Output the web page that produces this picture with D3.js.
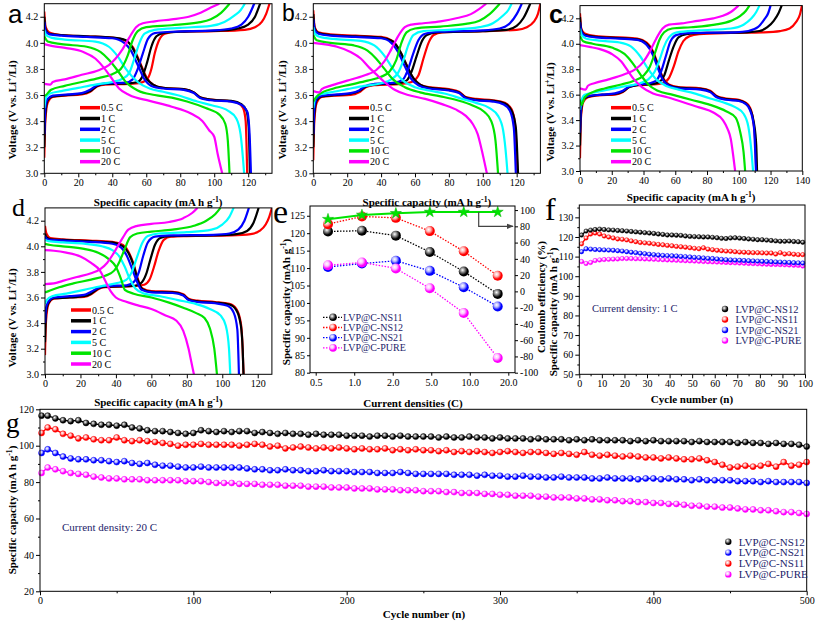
<!DOCTYPE html>
<html><head><meta charset="utf-8">
<script src="https://cdn.jsdelivr.net/npm/d3@7/dist/d3.min.js"></script>
<style>html,body{margin:0;padding:0;background:#fff;} svg{display:block;}</style>
</head><body>
<svg id="chart" width="817" height="626"></svg>
<script>
// ================= DATA =================
const rateLabels = ["0.5 C","1 C","2 C","5 C","10 C","20 C"];
const rateColors = ["#ff0000","#000000","#0000ff","#00ffff","#00e400","#ff00ff"];

// Panel a : [capacity mAh/g, voltage V]
const aDischarge = [
 [[0,4.24],[0.8,4.12],[3,4.08],[10,4.06],[25,4.05],[40,4.04],[47,4.02],[52,3.97],[56,3.86],[60,3.74],[64,3.68],[70,3.655],[82,3.645],[88,3.62],[92,3.58],[98,3.565],[108,3.555],[114,3.54],[117,3.5],[118.5,3.4],[119.4,3.0]],
 [[0,4.2],[0.8,4.1],[3,4.07],[10,4.06],[25,4.05],[40,4.04],[48,4.02],[52,3.96],[56,3.85],[60,3.73],[64,3.68],[70,3.655],[82,3.645],[88,3.62],[92,3.58],[98,3.565],[110,3.555],[116,3.53],[119,3.48],[120.3,3.35],[121,3.0]],
 [[0,4.16],[0.8,4.09],[3,4.065],[10,4.055],[25,4.045],[40,4.035],[47,4.0],[51,3.94],[55,3.83],[59,3.72],[63,3.67],[70,3.65],[82,3.64],[88,3.615],[92,3.575],[98,3.56],[110,3.55],[116,3.525],[119.5,3.47],[120.8,3.3],[121.6,3.0]],
 [[0,4.1],[1,4.06],[4,4.04],[12,4.025],[30,4.01],[38,3.97],[43,3.9],[48,3.8],[55,3.7],[62,3.65],[70,3.625],[78,3.6],[90,3.55],[99,3.52],[108,3.48],[113,3.42],[115.5,3.3],[117,3.1],[117.6,3.0]],
 [[0,4.05],[2,4.01],[10,3.99],[25,3.97],[33,3.93],[38,3.87],[43,3.79],[48,3.7],[55,3.635],[65,3.6],[75,3.58],[84,3.55],[95,3.5],[103,3.45],[106.5,3.38],[108,3.25],[109,3.0]],
 [[0,3.99],[5,3.975],[13,3.96],[23,3.93],[30,3.88],[35,3.81],[39,3.74],[44,3.65],[50,3.6],[62,3.555],[75,3.51],[86,3.46],[93,3.4],[97,3.33],[100,3.28],[102,3.15],[104.7,3.0]]
];
const aCharge = [
 [[0,3.12],[0.6,3.4],[2,3.54],[5,3.585],[12,3.595],[22,3.605],[27,3.625],[31,3.665],[36,3.68],[50,3.685],[57,3.695],[61,3.73],[63,3.8],[65,3.92],[67.5,4.02],[71,4.07],[78,4.085],[100,4.09],[118,4.1],[124,4.12],[128,4.16],[130.5,4.22],[132.5,4.3]],
 [[0,3.2],[0.6,3.45],[2,3.56],[5,3.59],[14,3.6],[22,3.61],[27,3.63],[31,3.67],[36,3.685],[50,3.69],[55,3.7],[58,3.75],[60.5,3.85],[63,3.97],[66,4.05],[70,4.075],[80,4.085],[105,4.095],[114,4.11],[120,4.14],[124,4.2],[127,4.3]],
 [[0,3.3],[0.6,3.5],[2,3.57],[5,3.595],[14,3.605],[22,3.615],[27,3.64],[31,3.675],[36,3.69],[48,3.695],[52,3.72],[55,3.8],[58,3.92],[61,4.03],[65,4.075],[75,4.085],[100,4.095],[110,4.11],[116,4.14],[120,4.2],[123.5,4.3]],
 [[0,3.5],[1,3.58],[3,3.61],[10,3.63],[20,3.655],[30,3.68],[40,3.7],[46,3.725],[50,3.77],[53,3.88],[56,4.0],[59,4.07],[65,4.1],[80,4.115],[98,4.13],[106,4.16],[112,4.21],[115.5,4.25],[118,4.3]],
 [[0,3.59],[1,3.6],[4,3.64],[12,3.67],[22,3.7],[32,3.73],[40,3.76],[45,3.8],[49,3.9],[52,4.02],[55,4.09],[60,4.12],[75,4.135],[90,4.155],[98,4.18],[104,4.23],[109,4.3]],
 [[0,3.685],[3.5,3.68],[5,3.7],[12,3.72],[22,3.755],[32,3.79],[38,3.83],[42,3.88],[46,3.95],[50,4.04],[54,4.12],[58,4.15],[65,4.165],[75,4.18],[85,4.2],[92,4.23],[98,4.27],[103,4.3]]
];

// Panel b
const bDischarge = [
 [[0,4.25],[0.8,4.12],[3,4.08],[10,4.065],[25,4.055],[40,4.045],[46,4.02],[50,3.96],[54,3.86],[58,3.75],[62,3.69],[68,3.66],[80,3.645],[86,3.625],[90,3.585],[96,3.57],[106,3.56],[113,3.54],[117,3.49],[119,3.38],[120.5,3.0]],
 [[0,4.22],[0.8,4.11],[3,4.075],[10,4.06],[25,4.05],[40,4.04],[47,4.01],[51,3.94],[55,3.83],[59,3.73],[63,3.68],[69,3.655],[80,3.64],[86,3.62],[90,3.58],[96,3.565],[107,3.555],[113,3.535],[117,3.48],[119.5,3.35],[120.8,3.0]],
 [[0,4.18],[0.8,4.1],[3,4.07],[10,4.055],[25,4.045],[40,4.035],[46,4.0],[50,3.93],[54,3.82],[58,3.72],[62,3.675],[68,3.65],[80,3.635],[86,3.615],[90,3.575],[96,3.56],[106,3.55],[112,3.53],[116,3.48],[118.3,3.35],[119.5,3.0]],
 [[0,4.12],[1,4.07],[4,4.045],[12,4.03],[28,4.015],[36,3.98],[42,3.9],[47,3.8],[53,3.71],[60,3.66],[68,3.635],[78,3.61],[88,3.57],[96,3.54],[104,3.5],[109,3.44],[112,3.33],[114,3.1],[114.6,3.0]],
 [[0,4.06],[2,4.02],[10,4.0],[24,3.98],[32,3.94],[37,3.88],[42,3.8],[47,3.72],[54,3.66],[63,3.62],[75,3.59],[85,3.56],[94,3.52],[101,3.47],[105,3.4],[107.5,3.25],[109,3.0]],
 [[0,4.0],[6,3.99],[14,3.97],[22,3.93],[28,3.88],[33,3.81],[37,3.76],[42,3.7],[48,3.64],[56,3.6],[66,3.57],[76,3.53],[84,3.49],[90,3.44],[94,3.38],[97,3.3],[99,3.2],[102.4,3.0]]
];
const bCharge = [
 [[0,3.1],[0.6,3.4],[2,3.54],[5,3.585],[12,3.595],[22,3.6],[27,3.62],[31,3.66],[36,3.675],[52,3.685],[58,3.7],[62,3.75],[65,3.88],[68,4.0],[71,4.06],[76,4.08],[100,4.09],[120,4.1],[126,4.12],[130,4.16],[132.5,4.22],[134,4.3]],
 [[0,3.2],[0.6,3.45],[2,3.56],[5,3.59],[14,3.6],[22,3.61],[27,3.63],[31,3.665],[36,3.68],[50,3.69],[55,3.71],[58,3.78],[61,3.9],[64,4.01],[67,4.06],[73,4.08],[100,4.09],[114,4.1],[120,4.13],[124,4.19],[128,4.3]],
 [[0,3.3],[0.6,3.5],[2,3.57],[5,3.595],[14,3.605],[22,3.615],[27,3.635],[31,3.67],[36,3.685],[48,3.695],[53,3.72],[56,3.8],[59,3.92],[62,4.02],[66,4.07],[75,4.085],[100,4.095],[110,4.11],[116,4.15],[120,4.22],[123,4.3]],
 [[0,3.5],[1,3.57],[3,3.6],[10,3.62],[20,3.645],[30,3.67],[40,3.69],[46,3.72],[50,3.77],[53,3.86],[56,3.98],[59,4.06],[65,4.09],[80,4.1],[98,4.12],[106,4.15],[112,4.21],[115,4.25],[117,4.3]],
 [[0,3.55],[1,3.57],[4,3.61],[12,3.65],[22,3.68],[32,3.71],[40,3.74],[45,3.78],[49,3.87],[52,4.0],[55,4.08],[60,4.11],[75,4.125],[90,4.145],[98,4.17],[104,4.22],[110,4.3]],
 [[0,3.63],[3.5,3.62],[5,3.645],[10,3.67],[20,3.71],[30,3.75],[37,3.79],[42,3.86],[46,3.95],[50,4.05],[54,4.12],[58,4.14],[65,4.15],[75,4.165],[85,4.19],[93,4.22],[98,4.26],[102,4.3]]
];

// Panel c
const cDischarge = [
 [[0,4.24],[0.8,4.12],[3,4.08],[10,4.06],[25,4.05],[36,4.04],[42,4.01],[46,3.94],[49,3.84],[52,3.74],[56,3.68],[62,3.66],[76,3.65],[82,3.63],[86,3.59],[92,3.57],[100,3.56],[104,3.54],[107,3.5],[109,3.4],[110.5,3.2],[111,3.0]],
 [[0,4.21],[0.8,4.11],[3,4.07],[10,4.055],[25,4.045],[36,4.035],[42,4.0],[46,3.93],[49,3.83],[52,3.73],[56,3.675],[62,3.655],[76,3.645],[82,3.625],[86,3.585],[92,3.565],[100,3.555],[104,3.535],[107,3.49],[109.5,3.38],[111,3.2],[111.5,3.0]],
 [[0,4.17],[0.8,4.1],[3,4.065],[10,4.05],[25,4.04],[36,4.03],[42,3.99],[46,3.91],[49,3.81],[52,3.72],[56,3.67],[62,3.65],[76,3.64],[82,3.62],[86,3.58],[92,3.56],[100,3.55],[104,3.53],[107,3.48],[109.5,3.35],[110.8,3.0]],
 [[0,4.12],[1,4.07],[4,4.04],[12,4.025],[25,4.01],[32,3.98],[38,3.9],[43,3.8],[48,3.72],[54,3.67],[62,3.64],[72,3.61],[82,3.57],[90,3.54],[98,3.5],[103,3.45],[106,3.35],[108,3.15],[109,3.0]],
 [[0,4.06],[2,4.02],[8,4.0],[20,3.97],[28,3.92],[33,3.85],[38,3.76],[43,3.68],[49,3.63],[58,3.6],[70,3.56],[82,3.52],[92,3.47],[98,3.42],[101,3.3],[103,3.15],[104,3.0]],
 [[0,3.99],[6,3.975],[12,3.96],[20,3.92],[26,3.86],[30,3.79],[34,3.72],[39,3.66],[46,3.61],[55,3.58],[65,3.54],[75,3.5],[84,3.46],[90,3.4],[93,3.33],[95,3.25],[96.5,3.12],[97.7,3.0]]
];
const cCharge = [
 [[0,3.1],[0.6,3.42],[2,3.54],[5,3.58],[12,3.595],[22,3.6],[27,3.62],[31,3.66],[36,3.675],[46,3.68],[52,3.69],[56,3.73],[59,3.82],[62,3.94],[65,4.02],[69,4.06],[75,4.075],[95,4.085],[115,4.09],[126,4.1],[132,4.12],[136,4.17],[138.5,4.23],[139.8,4.3]],
 [[0,3.2],[0.6,3.45],[2,3.56],[5,3.585],[14,3.6],[22,3.605],[27,3.625],[31,3.66],[36,3.675],[46,3.685],[50,3.7],[53,3.75],[56,3.87],[59,3.98],[62,4.05],[67,4.075],[80,4.085],[105,4.09],[113,4.1],[118,4.13],[122,4.18],[125,4.24],[127,4.3]],
 [[0,3.3],[0.6,3.5],[2,3.57],[5,3.59],[14,3.6],[22,3.61],[27,3.63],[31,3.665],[36,3.68],[44,3.69],[48,3.71],[51,3.78],[54,3.9],[57,4.02],[61,4.07],[70,4.085],[98,4.09],[106,4.1],[112,4.13],[116,4.19],[118.5,4.24],[120,4.3]],
 [[0,3.48],[1,3.56],[3,3.6],[10,3.62],[20,3.645],[30,3.67],[38,3.69],[43,3.72],[47,3.78],[50,3.87],[53,3.98],[56,4.05],[61,4.09],[75,4.105],[95,4.12],[103,4.15],[108,4.2],[111,4.25],[113,4.3]],
 [[0,3.56],[1,3.52],[3,3.58],[8,3.62],[16,3.65],[26,3.68],[34,3.71],[40,3.75],[44,3.82],[47,3.92],[50,4.03],[53,4.09],[58,4.12],[70,4.13],[85,4.15],[95,4.18],[101,4.22],[104.5,4.26],[106.7,4.3]],
 [[0,3.65],[3.5,3.64],[5,3.67],[9,3.69],[18,3.72],[28,3.76],[35,3.8],[40,3.86],[44,3.94],[48,4.04],[52,4.12],[56,4.15],[64,4.16],[74,4.18],[84,4.2],[90,4.22],[95,4.25],[99.8,4.3]]
];

// Panel d
const dDischarge = [
 [[0,4.16],[0.8,4.1],[3,4.065],[10,4.055],[25,4.045],[38,4.035],[44,4.01],[47,3.96],[50,3.86],[52.5,3.74],[55,3.67],[60,3.65],[72,3.645],[78,3.625],[81,3.59],[86,3.575],[96,3.565],[104,3.55],[108,3.51],[110.5,3.4],[111.5,3.2],[112,3.0]],
 [[0,4.1],[0.8,4.07],[3,4.055],[10,4.05],[25,4.04],[38,4.03],[44,4.0],[47,3.95],[50,3.85],[52.5,3.73],[55,3.665],[60,3.645],[72,3.64],[78,3.62],[81,3.585],[86,3.57],[96,3.56],[104,3.545],[108,3.5],[110.5,3.38],[111.5,3.2],[112,3.0]],
 [[0,4.08],[0.8,4.06],[3,4.05],[10,4.045],[25,4.035],[38,4.02],[43,3.99],[46,3.93],[49,3.83],[52,3.72],[54.5,3.66],[60,3.64],[72,3.635],[78,3.615],[81,3.58],[86,3.565],[96,3.555],[103,3.535],[106.5,3.48],[108.5,3.35],[109.4,3.0]],
 [[0,4.05],[2,4.04],[10,4.03],[22,4.02],[32,4.0],[38,3.97],[42,3.92],[45,3.84],[48,3.74],[51,3.67],[56,3.63],[65,3.61],[75,3.58],[85,3.55],[93,3.51],[99,3.46],[102,3.38],[103.8,3.2],[104.5,3.0]],
 [[0,4.02],[3,4.01],[10,4.0],[22,3.98],[30,3.95],[36,3.9],[40,3.84],[43,3.74],[45,3.66],[50,3.63],[60,3.6],[70,3.56],[78,3.52],[85,3.48],[90,3.44],[93,3.36],[95.5,3.2],[97,3.0]],
 [[0,3.97],[5,3.965],[12,3.95],[20,3.92],[26,3.87],[31,3.81],[34,3.73],[37,3.65],[40,3.6],[45,3.57],[52,3.54],[60,3.51],[68,3.46],[74,3.42],[78,3.34],[81,3.2],[82.5,3.1],[84,3.0]]
];
const dCharge = [
 [[0,3.15],[0.6,3.42],[2,3.55],[5,3.59],[14,3.6],[22,3.605],[26,3.625],[30,3.665],[34,3.68],[50,3.69],[56,3.7],[59,3.74],[61.5,3.84],[64,3.96],[67,4.05],[71,4.075],[80,4.08],[105,4.085],[116,4.095],[121,4.12],[124.5,4.17],[126.5,4.23],[128,4.3]],
 [[0,3.25],[0.6,3.48],[2,3.56],[5,3.595],[14,3.6],[22,3.61],[26,3.63],[30,3.67],[34,3.685],[50,3.69],[54,3.71],[57,3.78],[59.5,3.9],[62,4.01],[65,4.065],[70,4.08],[95,4.085],[108,4.095],[114,4.12],[117.5,4.18],[120.5,4.3]],
 [[0,3.4],[0.6,3.52],[2,3.57],[5,3.6],[14,3.61],[22,3.62],[26,3.645],[30,3.675],[34,3.69],[46,3.695],[50,3.72],[53,3.8],[55.5,3.93],[58,4.03],[62,4.075],[70,4.085],[95,4.09],[104,4.1],[109,4.13],[112.5,4.2],[115,4.3]],
 [[0,3.55],[1,3.58],[4,3.61],[12,3.63],[22,3.66],[32,3.69],[40,3.71],[46,3.74],[49,3.8],[52,3.92],[55,4.03],[58,4.08],[64,4.1],[80,4.11],[94,4.13],[100,4.17],[104,4.23],[106.4,4.3]],
 [[0,3.64],[2,3.65],[8,3.68],[16,3.71],[26,3.74],[34,3.77],[39,3.81],[42,3.88],[45,3.98],[48,4.07],[52,4.1],[60,4.115],[72,4.13],[84,4.16],[91,4.2],[96,4.25],[99,4.3]],
 [[0,3.705],[5,3.71],[10,3.73],[18,3.76],[26,3.79],[31,3.82],[35,3.87],[38,3.93],[41,4.0],[44,4.07],[47,4.13],[52,4.16],[60,4.175],[70,4.19],[78,4.22],[83,4.26],[86,4.3]]
];

// Panel e : rate capability
const eCurrents   = ["0.5","1","2","5","10","20"];
const eTickLabels = ["0.5","1.0","2.0","5.0","10.0","20.0"];
const eNS11 = [120.5, 120.7, 119.3, 114.6, 109.0, 102.6];
const eNS12 = [122.6, 124.8, 124.4, 120.6, 114.8, 107.8];
const eNS21 = [110.3, 111.3, 112.1, 109.2, 104.5, 99.0];
const ePURE = [110.8, 111.6, 109.9, 104.2, 97.1, 84.2];
const eCoulomb = [88.8, 94.0, 96.0, 97.6, 97.6, 97.6];

// Panel f : 1 C cycling, every 2nd cycle starting at cycle 1
const fNS12 = [121,123,123.5,123.8,124,123.8,123.6,123.5,123.3,123.2,123,122.8,122.6,122.4,122.2,122,121.8,121.5,121.3,121,121,120.9,120.8,120.5,120.3,120.2,120.1,120,120,119.8,119.6,119.3,119.2,119.5,119.6,119.4,119.2,119,118.8,118.6,118.6,118.4,118.2,118,117.8,117.8,117.9,117.7,117.6,117.3];
const fNS11 = [116.5,119.5,121.5,122,121.5,120.5,120,119.5,119,118.8,118.5,118,117.6,117.2,117,116.8,116.5,116.2,116,115.7,115.5,115.2,115,114.8,114.5,114.2,114,114.5,113.8,113.5,113.2,113,112.8,112.7,112.5,112.3,112.2,112.1,112,112,111.9,111.8,111.8,111.3,112,111.3,111.5,111.2,111,111];
const fNS21 = [112.5,114,113.8,113.6,113.5,113.4,113.3,113.2,113,112.8,112.5,112.2,112,111.7,111.5,111.2,111,110.8,110.6,110.5,110.4,110.3,110.1,110,109.8,109.6,109.5,109.3,109.1,109,108.8,108.6,108.4,108.3,108.2,108.1,108,107.9,107.8,107.7,107.6,107.5,107.4,107.3,107.2,107.1,107,106.9,106.8,106.7];
const fPURE = [107.5,106.5,107,108,108.3,108.5,108.6,108.7,108.8,109,109,109,108.9,108.9,108.8,108.7,108.6,108.5,108.4,108.3,108.2,108.1,108,107.9,107.8,107.7,107.6,107.5,107.4,107.3,107.2,107.1,107,106.9,106.8,106.7,106.6,106.5,106.4,106.3,106.2,106.1,106,106,105.9,105.8,105.7,105.6,105.5,105.2];

// Panel g : 20 C cycling, cycles 1,5,10,...,500
const gNS12 = [116.5,116.5,115,114,113.5,114,112.5,112,111.5,111.5,111,111.5,110,109.5,108.5,108,108,107.5,107,106.5,107,
 108.5,108,107.5,108,107.5,108,108,107,107.5,107,
 106.5,107,106.5,106.5,106,106.5,106,106,106,105.5,
 105.5,105.5,105,105.5,105.5,105,105.5,105,105,105,
 105,104.5,105,104.5,104.5,105,104.5,104.5,104,104.5,
 104,104,104,103.5,104,103.5,103.5,103.5,103,103.5,
 103,103.5,103,103,103,103,102.5,103,102.5,103,
 102.5,102.5,102.5,102.5,102,102.5,102,102,102,102,
 101.5,102,101.5,101.5,101,101.5,101,101,100.5,99.5];
const gNS11 = [107,110,109,106.5,105.5,104,104.5,103.5,103,103,104.5,103,102.5,103,102.5,102,101.5,101,100,100.5,100.5,
 101,100.5,100.5,100.5,100.5,100,100.5,101,100.5,99.5,
 100,98.5,99,99.5,99,98.5,99,98.5,99,98.5,
 98,98.5,98,98,98.5,97.5,98,97.5,98,97.5,
 97.5,97,97.5,96.5,97,96.5,97,96.5,96,96.5,
 97,96.5,96,96.5,96.5,96,95.5,96,95.5,95,
 96.5,95,94.5,95,94.5,94,94.5,94,93.5,93.5,
 93,93.5,93,92.5,92.5,93,92,91,89.5,88,
 88.5,89,88.5,89,90,88.5,91,89,89.5,91];
const gNS21 = [96,98,96,94,93,92.5,92.5,92,92,91.5,91,91.5,90.5,90,90.5,89.5,89,89,88.5,88,88,
 88.5,88,88,88,88,88,87.5,87,87,86.5,
 86.5,87,86.5,86.5,86,86,86.5,86,86,86,
 85.5,85.5,85.5,85,85,85,85.5,85,84.5,84.5,
 84.5,84.5,84.5,84,84,84,83.5,84,83.5,83.5,
 83,83,83.5,83,83,82.5,82.5,83,82.5,82.5,
 82.5,82,82,82.5,82,82,82,81.5,82,82,
 81.5,82,81.5,81.5,81,81.5,81,81,81,81,
 80.5,80.5,80.5,80,80.5,80,80,80,80,79.5];
const gPURE = [85,88,87,86,85,84.5,84,83,82.5,82,82,81.5,81.5,81.5,81,81,81,81,81,80.5,80.5,
 80.5,80,79.5,79.5,79.5,79,79,79,78.5,78.5,
 78.5,78,78,78,77.5,77.5,77.5,77,77,77,
 76.5,76.5,76.5,76,76,76,75.5,75.5,75.5,75,
 75,75,74.5,74.5,74,74,74,73.5,73.5,73,
 73,72.5,72.5,72.5,72,72,71.5,71.5,71.5,71,
 71,70.5,70.5,70,70,69.5,69.5,69,69,68.5,
 68.5,68,68,67.5,67,67,66.5,66.5,66,66,
 65.5,65,65,64.5,64.5,64,63.5,63.5,63,62.5];

// ================= RENDER =================
const svg = d3.select("#chart");
const SERIF = "'Liberation Serif','Times New Roman',serif";
const SANS = "'Liberation Sans',Arial,sans-serif";
const NAVY = "#23236a";
const defs = svg.append("defs");

const balls = {black:["#000000","#8a8a8a"], red:["#ff0000","#ffb4b4"], blue:["#0000ff","#b4b4ff"], magenta:["#ff00ff","#ffc4ff"]};
Object.entries(balls).forEach(([k,[c,l]])=>{
  const gr = defs.append("radialGradient").attr("id","ball-"+k).attr("cx","38%").attr("cy","35%").attr("r","65%");
  gr.append("stop").attr("offset","0%").attr("stop-color","#ffffff");
  gr.append("stop").attr("offset","35%").attr("stop-color",l);
  gr.append("stop").attr("offset","75%").attr("stop-color",c);
  gr.append("stop").attr("offset","100%").attr("stop-color",c);
});
defs.append("marker").attr("id","arrowHead").attr("viewBox","0 0 10 10").attr("refX",9).attr("refY",5)
  .attr("markerWidth",6).attr("markerHeight",6).attr("orient","auto")
  .append("path").attr("d","M0,1 L10,5 L0,9 Z").attr("fill","#444");

function styleAxis(sel, fs){
  sel.select(".domain").remove();
  sel.selectAll(".tick line").attr("stroke","#000").attr("stroke-width",1);
  sel.selectAll(".tick text").attr("font-family",SERIF).attr("font-size",fs||10).attr("fill","#000");
}
function frame(x0,y0,x1,y1){
  svg.append("rect").attr("x",x0).attr("y",y0).attr("width",x1-x0).attr("height",y1-y0)
    .attr("fill","none").attr("stroke","#000").attr("stroke-width",1);
}
// rich text with superscripts: parts = [[text, isSup], ...]
function richText(x,y,parts,opts){
  const g = svg.append("g").attr("transform",`translate(${x},${y})${opts.rotate?" rotate(-90)":""}`);
  const t = g.append("text").attr("text-anchor",opts.anchor||"middle").attr("font-family",SERIF)
    .attr("font-size",opts.size||11).attr("font-weight",opts.weight||"bold").attr("fill",opts.fill||"#000");
  let prevSup = false;
  parts.forEach(([s,sup])=>{
    const ts = t.append("tspan").text(s);
    if(sup){ ts.attr("dy",-4).attr("font-size",(opts.size||11)*0.7); }
    else if(prevSup){ ts.attr("dy",4); }
    prevSup = !!sup;
  });
  return t;
}
function letter(txt,x,y,font,size,weight){
  svg.append("text").attr("x",x).attr("y",y).attr("font-family",font).attr("font-size",size)
    .attr("font-weight",weight||"normal").attr("fill","#000").text(txt);
}
const capLabel = [["Specific capacity (mA h g",0],["-1",1],[")",0]];
const voltLabel = [["Voltage (V vs. Li",0],["+",1],["/Li)",0]];

function voltagePanel(cfg){
  const x = d3.scaleLinear().domain([0,cfg.xMax]).range([cfg.x0,cfg.x1]);
  const y = d3.scaleLinear().domain([3.0,4.3]).range([cfg.yBot,cfg.yTop]);
  const id = "clip-"+cfg.name;
  defs.append("clipPath").attr("id",id).append("rect").attr("x",cfg.x0).attr("y",cfg.yTop)
    .attr("width",cfg.x1-cfg.x0).attr("height",cfg.yBot-cfg.yTop);
  const line = d3.line().x(d=>x(d[0])).y(d=>y(d[1])).curve(d3.curveMonotoneX);
  const gc = svg.append("g").attr("clip-path",`url(#${id})`);
  rateLabels.forEach((r,i)=>{
    gc.append("path").attr("d",line(cfg.charge[i])).attr("fill","none").attr("stroke",rateColors[i]).attr("stroke-width",2.2);
    gc.append("path").attr("d",line(cfg.discharge[i])).attr("fill","none").attr("stroke",rateColors[i]).attr("stroke-width",2.2);
  });
  const xa = svg.append("g").attr("transform",`translate(0,${cfg.yBot})`)
    .call(d3.axisBottom(x).tickValues(d3.range(0,cfg.xMax+0.01,20)).tickSize(4).tickPadding(2).tickFormat(d3.format("d")));
  styleAxis(xa);
  const xm = svg.append("g").attr("transform",`translate(0,${cfg.yBot})`)
    .call(d3.axisBottom(x).tickValues(d3.range(10,cfg.xMax,20)).tickSize(2).tickFormat(""));
  styleAxis(xm);
  const ya = svg.append("g").attr("transform",`translate(${cfg.x0},0)`)
    .call(d3.axisLeft(y).tickValues([3.0,3.2,3.4,3.6,3.8,4.0,4.2]).tickSize(4).tickPadding(2).tickFormat(d3.format(".1f")));
  styleAxis(ya);
  const ym = svg.append("g").attr("transform",`translate(${cfg.x0},0)`)
    .call(d3.axisLeft(y).tickValues([3.1,3.3,3.5,3.7,3.9,4.1]).tickSize(2).tickFormat(""));
  styleAxis(ym);
  frame(cfg.x0,cfg.yTop,cfg.x1,cfg.yBot);
  // legend
  rateLabels.forEach((r,i)=>{
    const yy = cfg.legY + i*10.8;
    svg.append("line").attr("x1",cfg.legX).attr("x2",cfg.legX+20).attr("y1",yy).attr("y2",yy)
      .attr("stroke",rateColors[i]).attr("stroke-width",3.5);
    svg.append("text").attr("x",cfg.legX+21).attr("y",yy+3.5).attr("font-family",SERIF).attr("font-size",10)
      .attr("fill","#000").text(r);
  });
  richText(cfg.yLabX, cfg.yLabY, voltLabel, {rotate:true});
  richText((cfg.x0+cfg.x1)/2, cfg.xLabY, capLabel, {});
}

voltagePanel({name:"a",x0:44.3,x1:272,xMax:134,yTop:3.7,yBot:173.3,discharge:aDischarge,charge:aCharge,legX:80,legY:107.7,yLabX:15.5,yLabY:110,xLabY:205.5});
voltagePanel({name:"b",x0:313.3,x1:540.4,xMax:134,yTop:3.7,yBot:173.3,discharge:bDischarge,charge:bCharge,legX:349,legY:107.7,yLabX:285.5,yLabY:110,xLabY:205.5});
voltagePanel({name:"c",x0:580,x1:802.3,xMax:140,yTop:5.6,yBot:171,discharge:cDischarge,charge:cCharge,legX:611,legY:107.7,yLabX:554,yLabY:112,xLabY:201});
voltagePanel({name:"d",x0:45,x1:271.9,xMax:128,yTop:207.9,yBot:374.3,discharge:dDischarge,charge:dCharge,legX:71,legY:310,yLabX:15.5,yLabY:318,xLabY:405.5});

letter("a",8,23,SANS,26);
letter("b",282,21,SANS,23);
letter("c",549,23,SANS,25,"bold");
letter("d",12,216,SERIF,26);

// ---------- Panel e ----------
(function(){
  const x0=310,x1=515,yT=206,yB=372.7;
  const x = d3.scalePoint().domain(eCurrents).range([328,497.7]);
  const yL = d3.scaleLinear().domain([80,127.8]).range([yB,yT]);
  const yR = d3.scaleLinear().domain([-100,105]).range([yB,yT]);
  const xt = d3.scalePoint().domain(eTickLabels).range([315.7,508.3]);
  const series = [
    {name:"LVP@C-NS11",vals:eNS11,color:"#000000",ball:"black"},
    {name:"LVP@C-NS12",vals:eNS12,color:"#ff0000",ball:"red"},
    {name:"LVP@C-NS21",vals:eNS21,color:"#0000ff",ball:"blue"},
    {name:"LVP@C-PURE",vals:ePURE,color:"#ff00ff",ball:"magenta"}
  ];
  const line = d3.line().x((d,i)=>x(eCurrents[i])).y(d=>yL(d));
  series.forEach(s=>{
    svg.append("path").attr("d",line(s.vals)).attr("fill","none").attr("stroke",s.color)
      .attr("stroke-width",1.3).attr("stroke-dasharray","1.5,1.5");
  });
  series.forEach(s=>{
    svg.selectAll(null).data(s.vals).enter().append("circle")
      .attr("cx",(d,i)=>x(eCurrents[i])).attr("cy",d=>yL(d)).attr("r",5)
      .attr("fill",`url(#ball-${s.ball})`);
  });
  // coulomb efficiency
  const lineR = d3.line().x((d,i)=>x(eCurrents[i])).y(d=>yR(d));
  svg.append("path").attr("d",lineR(eCoulomb)).attr("fill","none").attr("stroke","#00e400").attr("stroke-width",2);
  svg.selectAll(null).data(eCoulomb).enter().append("path")
    .attr("d",d3.symbol().type(d3.symbolStar).size(38))
    .attr("transform",(d,i)=>`translate(${x(eCurrents[i])},${yR(d)})`)
    .attr("fill","#00e400").attr("stroke","#00b000").attr("stroke-width",0.5);
  // arrow pointing to right axis
  const ax = x("10") + (x("20")-x("10"))*0.44;
  svg.append("path").attr("d",`M${ax},${yR(eCoulomb[4])} V${yR(80)} H${x1-2}`)
    .attr("fill","none").attr("stroke","#444").attr("stroke-width",1.2).attr("marker-end","url(#arrowHead)");
  // axes
  const xa = svg.append("g").attr("transform",`translate(0,${yB})`)
    .call(d3.axisBottom(xt).tickSize(3).tickPadding(3));
  styleAxis(xa);
  const ya = svg.append("g").attr("transform",`translate(${x0},0)`)
    .call(d3.axisLeft(yL).tickValues(d3.range(80,126,5)).tickSize(3).tickPadding(2).tickFormat(d=>String(d)));
  styleAxis(ya);
  const yr = svg.append("g").attr("transform",`translate(${x1},0)`)
    .call(d3.axisRight(yR).tickValues(d3.range(-100,101,20)).tickSize(3).tickPadding(2).tickFormat(d=>String(d)));
  styleAxis(yr);
  frame(x0,yT,x1,yB);
  // legend
  series.forEach((s,i)=>{
    const yy = 317.3 + i*10.2;
    svg.append("line").attr("x1",323).attr("x2",342).attr("y1",yy).attr("y2",yy)
      .attr("stroke",s.color).attr("stroke-width",1.3).attr("stroke-dasharray","1.5,1.5");
    svg.append("circle").attr("cx",333).attr("cy",yy).attr("r",3.8).attr("fill",`url(#ball-${s.ball})`);
    svg.append("text").attr("x",343).attr("y",yy+3.5).attr("font-family",SERIF).attr("font-size",10)
      .attr("fill",NAVY).text(s.name);
  });
  richText(289.5, 302, [["Specific capacity (mAh g",0],["-1",1],[")",0]], {rotate:true});
  richText(544.5, 297, [["Coulomb efficiency (%)",0]], {rotate:true});
  richText(413, 406.5, [["Current densities (C)",0]], {});
  letter("e",273,223,SERIF,34);
})();

// ---------- cycling panels ----------
function cyclePanel(cfg){
  const x = d3.scaleLinear().domain(cfg.xDom).range([cfg.x0,cfg.x1]);
  const y = d3.scaleLinear().domain(cfg.yDom).range([cfg.yB,cfg.yT]);
  const line = d3.line().x((d,i)=>x(cfg.cycle(i))).y(d=>y(d));
  cfg.series.forEach(s=>{
    svg.append("path").attr("d",line(s.vals)).attr("fill","none").attr("stroke",s.color).attr("stroke-width",1.4);
    svg.selectAll(null).data(s.vals).enter().append("circle")
      .attr("cx",(d,i)=>x(cfg.cycle(i))).attr("cy",d=>y(d)).attr("r",cfg.r)
      .attr("fill",`url(#ball-${s.ball})`).attr("stroke",s.color).attr("stroke-width",0.5);
  });
  const xa = svg.append("g").attr("transform",`translate(0,${cfg.yB})`)
    .call(d3.axisBottom(x).tickValues(cfg.xTicks).tickSize(4).tickPadding(2).tickFormat(d=>String(d)));
  styleAxis(xa);
  const xm = svg.append("g").attr("transform",`translate(0,${cfg.yB})`)
    .call(d3.axisBottom(x).tickValues(cfg.xMinor).tickSize(2).tickFormat(""));
  styleAxis(xm);
  const ya = svg.append("g").attr("transform",`translate(${cfg.x0},0)`)
    .call(d3.axisLeft(y).tickValues(cfg.yTicks).tickSize(4).tickPadding(2).tickFormat(d=>String(d)));
  styleAxis(ya);
  const ym = svg.append("g").attr("transform",`translate(${cfg.x0},0)`)
    .call(d3.axisLeft(y).tickValues(cfg.yMinor).tickSize(2).tickFormat(""));
  styleAxis(ym);
  frame(cfg.x0,cfg.yT,cfg.x1,cfg.yB);
  cfg.legend.forEach((s,i)=>{
    const yy = cfg.legY + i*cfg.legStep;
    svg.append("circle").attr("cx",cfg.legX).attr("cy",yy).attr("r",3.2).attr("fill",`url(#ball-${s.ball})`);
    svg.append("text").attr("x",cfg.legX+10.5).attr("y",yy+3.8).attr("font-family",SERIF).attr("font-size",cfg.legFs)
      .attr("fill",NAVY).text(s.name);
  });
}

const sNS12f = {name:"LVP@C-NS12",color:"#000000",ball:"black"};
const sNS11f = {name:"LVP@C-NS11",color:"#ff0000",ball:"red"};
const sNS21f = {name:"LVP@C-NS21",color:"#0000ff",ball:"blue"};
const sPUREf = {name:"LVP@C-PURE",color:"#ff00ff",ball:"magenta"};

cyclePanel({
  x0:579.3,x1:805,yT:205,yB:374.3,xDom:[0,100],yDom:[50,136.3],r:2.2,
  cycle:i=>1+2*i,
  series:[Object.assign({vals:fPURE},sPUREf),Object.assign({vals:fNS21},sNS21f),Object.assign({vals:fNS11},sNS11f),Object.assign({vals:fNS12},sNS12f)],
  xTicks:d3.range(0,101,10), xMinor:d3.range(5,100,10),
  yTicks:d3.range(50,131,10), yMinor:d3.range(55,136,10),
  legend:[sNS12f,sNS11f,sNS21f,sPUREf], legX:725, legY:309, legStep:10.5, legFs:10.5
});
svg.append("text").attr("x",592).attr("y",311.5).attr("font-family",SERIF).attr("font-size",10.5).attr("fill",NAVY).text("Current density: 1 C");
richText(557, 312, capLabel, {rotate:true});
richText(692, 403, [["Cycle number (n)",0]], {});
letter("f",545,220,SERIF,32);

cyclePanel({
  x0:40,x1:806.7,yT:409.3,yB:591.3,xDom:[0,500],yDom:[20,120],r:3,
  cycle:i=>(i===0?1:i*5),
  series:[Object.assign({vals:gPURE},sPUREf),Object.assign({vals:gNS21},sNS21f),Object.assign({vals:gNS11},sNS11f),Object.assign({vals:gNS12},sNS12f)],
  xTicks:d3.range(0,501,100), xMinor:d3.range(50,500,100),
  yTicks:d3.range(20,121,20), yMinor:d3.range(30,120,20),
  legend:[sNS12f,sNS21f,sNS11f,sPUREf], legX:728.3, legY:541.7, legStep:10.9, legFs:11
});
svg.append("text").attr("x",62).attr("y",530.5).attr("font-family",SERIF).attr("font-size",11).attr("fill",NAVY).text("Current density: 20 C");
richText(15.5, 510, capLabel, {rotate:true});
richText(424, 617.5, [["Cycle number (n)",0]], {});
letter("g",6,432,SERIF,27);
</script>
</body></html>
